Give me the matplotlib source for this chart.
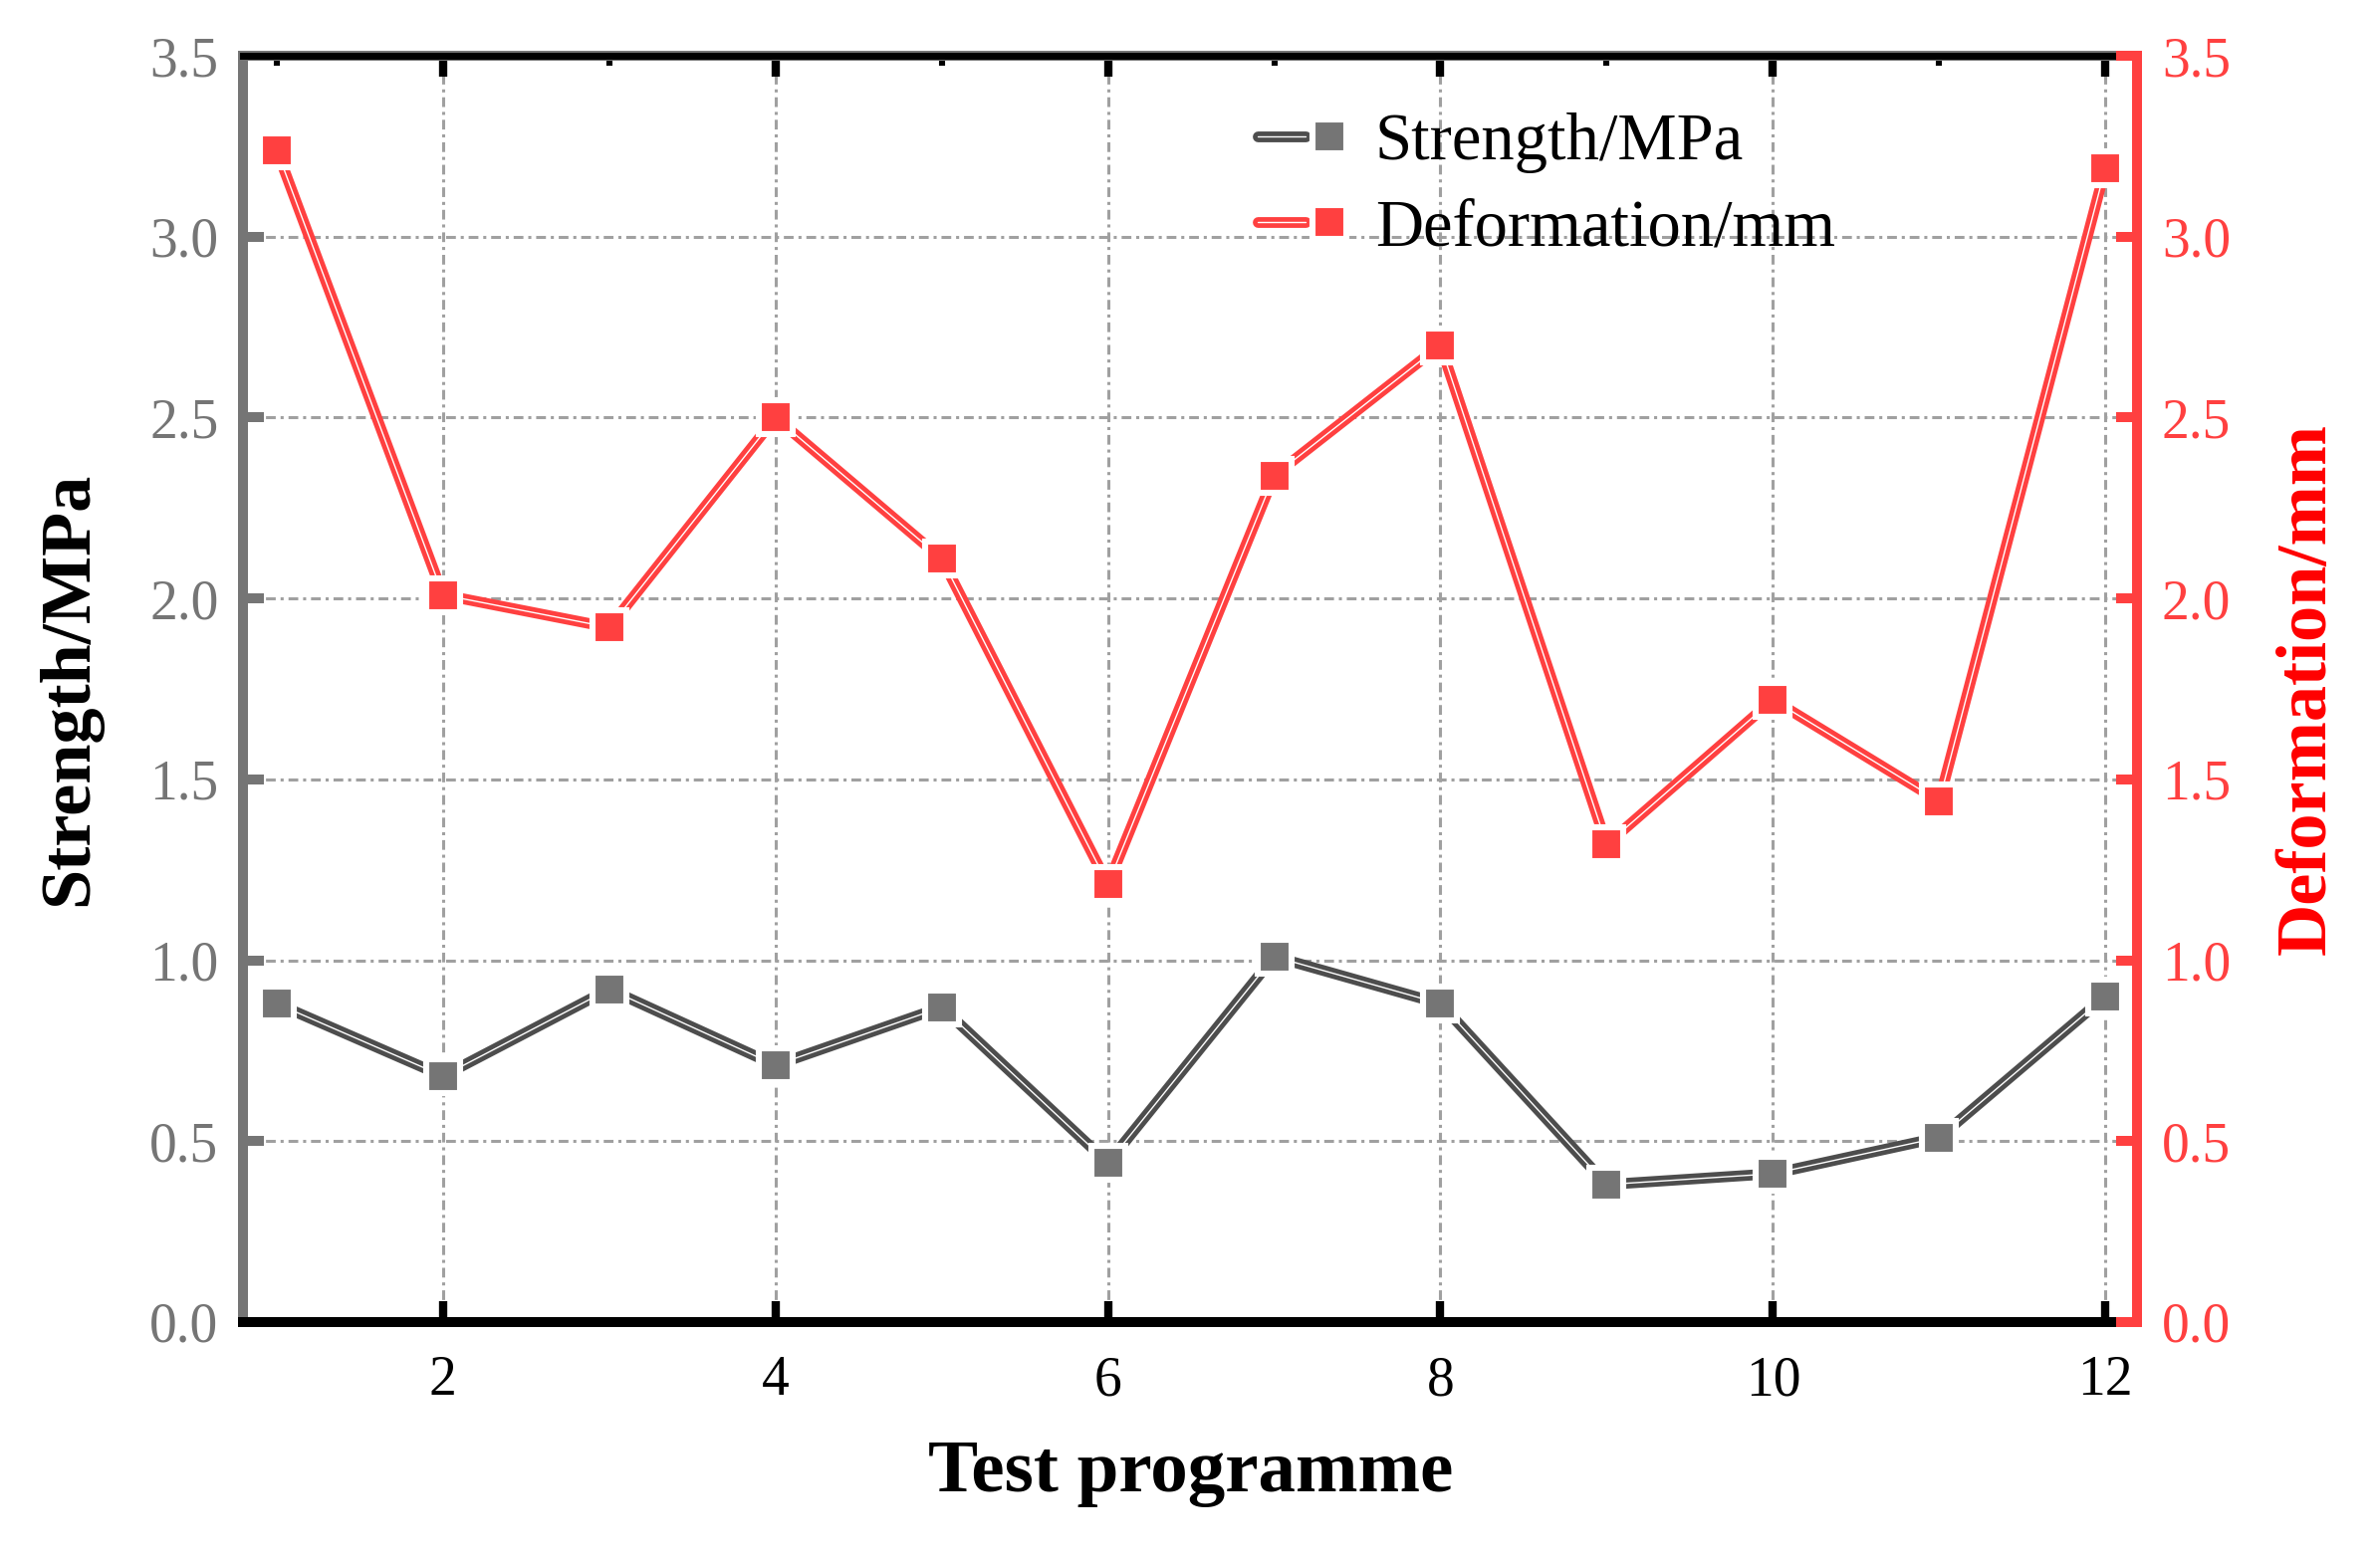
import numpy as np
import matplotlib
matplotlib.use('Agg')
import matplotlib.pyplot as plt
import matplotlib.patheffects as pe
from matplotlib.legend_handler import HandlerTuple
from matplotlib.ticker import FixedLocator

# datos
programa = [1, 2, 3, 4, 5, 6, 7, 8, 9, 10, 11, 12]
resistencia = [0.88, 0.68, 0.92, 0.71, 0.87, 0.44, 1.01, 0.88, 0.38, 0.41, 0.51, 0.90]
deformacion = [3.24, 2.01, 1.92, 2.50, 2.11, 1.21, 2.34, 2.70, 1.32, 1.72, 1.44, 3.19]
xticks = [2, 4, 6, 8, 10, 12]
xminor = [1, 3, 5, 7, 9, 11]
yticks = [0.0, 0.5, 1.0, 1.5, 2.0, 2.5, 3.0, 3.5]

gris = '#757575'
gris_linea = '#4d4d4d'
rojo = '#ff4040'

plt.rcParams['font.family'] = ['Liberation Serif', 'DejaVu Serif']

fig = plt.figure(figsize=(11.95, 7.83), dpi=200)
ax = fig.add_subplot(111)
fig.subplots_adjust(left=0.1023, right=0.8979, top=0.9642, bottom=0.152)
ax2 = ax.twinx()

# grid dash-dot
estilo_grid = (0, (3.2, 1.6, 1.0, 1.6))
ax.set_xticks(xticks)
ax.xaxis.set_minor_locator(FixedLocator(xminor))
ax.set_yticks(yticks)
ax.grid(True, which='major', color='#a0a0a0', linestyle=estilo_grid, linewidth=1.1)
ax.set_axisbelow(True)

# lineas con centro blanco
def linea(eje, x, y, color_linea, color_marca):
    l, = eje.plot(x, y, color='white', lw=0.5, solid_capstyle='round', zorder=3,
                  path_effects=[pe.Stroke(linewidth=3.9, foreground=color_linea,
                                          capstyle='round'), pe.Normal()])
    m, = eje.plot(x, y, ls='none', marker='s', ms=12.4, mfc=color_marca,
                  mec='white', mew=2.2, zorder=4)
    return l, m

l1, m1 = linea(ax, programa, resistencia, gris_linea, gris)
l2, m2 = linea(ax2, programa, deformacion, rojo, rojo)

ax.set_xlim(0.8, 12.19)
ax.set_ylim(0, 3.5)
ax2.set_ylim(0, 3.5)
ax2.set_yticks(yticks)
ax.set_yticklabels(['%.1f' % v for v in yticks])
ax2.set_yticklabels(['%.1f' % v for v in yticks])

# ejes
ax.tick_params(axis='y', which='major', direction='in', length=7.5, width=3.6,
               color=gris, labelcolor=gris, labelsize=20, pad=9, right=False)
ax.tick_params(axis='x', which='major', direction='in', length=7.5, width=3.0,
               color='black', labelsize=20, pad=12, top=True)
ax.tick_params(axis='x', which='minor', direction='in', length=3.5, width=2.2,
               color='black', bottom=False, top=True)
ax2.tick_params(axis='y', which='major', direction='in', length=7.5, width=3.6,
                color=rojo, labelcolor=rojo, labelsize=20, pad=9)

ax.spines['left'].set_color(gris)
ax.spines['left'].set_linewidth(3.6)
ax.spines['bottom'].set_color('black')
ax.spines['bottom'].set_linewidth(3.6)
ax.spines['right'].set_visible(False)
ax.spines['top'].set_color('black')
ax.spines['top'].set_linewidth(2.5)
ax.spines['top'].set_zorder(2.6)
for s in ['left', 'top', 'bottom']:
    ax2.spines[s].set_visible(False)
ax2.spines['right'].set_color(rojo)
ax2.spines['right'].set_linewidth(3.6)

# borde gris bajo el eje superior
ax.plot([0, 1], [1, 1], transform=ax.transAxes, color=gris, lw=3.6,
        clip_on=False, zorder=2.4)

ax.set_xlabel('Test programme', fontsize=27, fontweight='bold')
ax.xaxis.set_label_coords(0.5, -0.093)
ax.set_ylabel('Strength/MPa', fontsize=26, fontweight='bold')
ax.yaxis.set_label_coords(-0.075, 0.5)
ax2.set_ylabel('Deformation/mm', fontsize=26, fontweight='bold', color='red')
ax2.yaxis.set_label_coords(1.073, 0.5)

ax2.legend([(l1, m1), (l2, m2)], ['Strength/MPa', 'Deformation/mm'],
           handler_map={tuple: HandlerTuple(ndivide=None)},
           loc='upper left', bbox_to_anchor=(0.5356, 0.955), frameon=False,
           fontsize=24, handlelength=1.44, handletextpad=0.33, borderpad=0,
           borderaxespad=0, labelspacing=0.38, numpoints=1)

plt.savefig('out.png', dpi=200)
